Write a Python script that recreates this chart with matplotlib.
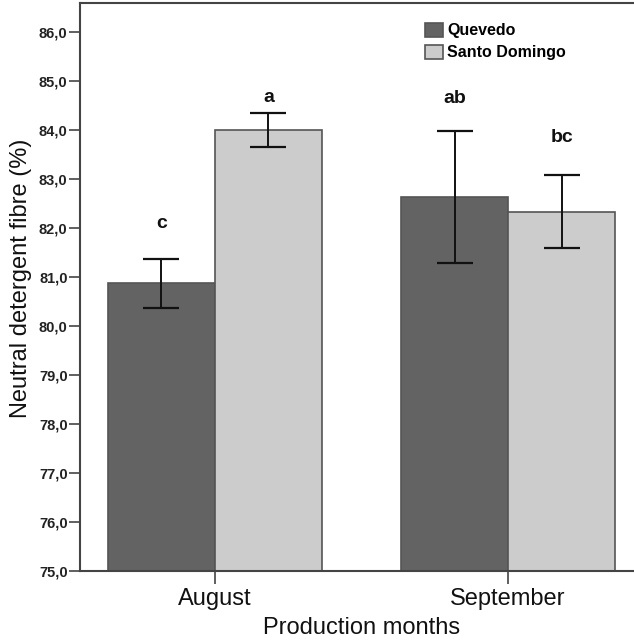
import matplotlib
matplotlib.use("Agg")
import matplotlib.pyplot as plt
import numpy as np

months = ["August", "September"]
sites = ["Quevedo", "Santo Domingo"]
means = {
    "Quevedo": [80.88, 82.64],
    "Santo Domingo": [84.01, 82.33],
}
err_low = {
    "Quevedo": [80.37, 81.29],
    "Santo Domingo": [83.66, 81.59],
}
err_high = {
    "Quevedo": [81.37, 83.98],
    "Santo Domingo": [84.35, 83.08],
}
letters = {
    "Quevedo": ["c", "ab"],
    "Santo Domingo": ["a", "bc"],
}
letter_y = {
    "Quevedo": [82.10, 84.65],
    "Santo Domingo": [84.67, 83.86],
}
yticks = np.arange(75, 87, 1)

colors = {"Quevedo": "#636363", "Santo Domingo": "#cccccc"}
sans = ["Liberation Sans", "DejaVu Sans"]

fig = plt.figure(figsize=(6.34, 6.41), dpi=100)
ax = fig.add_axes([80 / 634, 70 / 641, 563 / 634, 568 / 641])

x = np.arange(len(months))
width = 0.365
offsets = {"Quevedo": -width / 2, "Santo Domingo": width / 2}

for site in sites:
    pos = x + offsets[site]
    vals = np.array(means[site])
    lo = vals - np.array(err_low[site])
    hi = np.array(err_high[site]) - vals
    ax.bar(pos, vals - 75, bottom=75, width=width, color=colors[site],
           edgecolor="#555555", linewidth=1.2, label=site, zorder=2)
    ax.errorbar(pos, vals, yerr=[lo, hi], fmt="none", ecolor="#111111",
                elinewidth=1.4, capsize=13, capthick=1.6, zorder=3)
    for px, lab, ly in zip(pos, letters[site], letter_y[site]):
        ax.text(px, ly, lab, ha="center", va="center", fontsize=14,
                fontweight="bold", family=sans, color="#111111")

ax.set_ylim(75, 86.6)
ax.set_xlim(-0.46, 1.46)
ax.set_yticks(yticks)
ax.set_yticklabels([f"{v:.1f}".replace(".", ",") for v in yticks],
                   fontsize=10.5, fontweight="bold", family=sans, color="#222222")
ax.set_xticks(x)
ax.set_xticklabels(months, fontsize=17, family=sans, color="#111111")
ax.tick_params(axis="y", length=8, width=1.2, color="#444444", pad=1)
ax.tick_params(axis="x", length=9, width=1.2, color="#444444", pad=3)

for side in ["left", "bottom", "top", "right"]:
    ax.spines[side].set_color("#444444")
    ax.spines[side].set_linewidth(1.5)

ax.set_xlabel("Production months", fontsize=17, family=sans, labelpad=5,
              color="#111111")
ax.set_ylabel("Neutral detergent fibre (%)", fontsize=17, family=sans,
              color="#111111")
ax.yaxis.set_label_coords(-0.085, 0.515)

leg = ax.legend(loc="upper left", bbox_to_anchor=(425 / 634, 1 - 23 / 641),
                bbox_transform=fig.transFigure, frameon=False,
                prop={"family": sans, "weight": "bold", "size": 11.5},
                handlelength=1.1, handleheight=0.95, handletextpad=0.3,
                labelspacing=0.4, borderpad=0, borderaxespad=0)

fig.savefig("out.png", dpi=100)
